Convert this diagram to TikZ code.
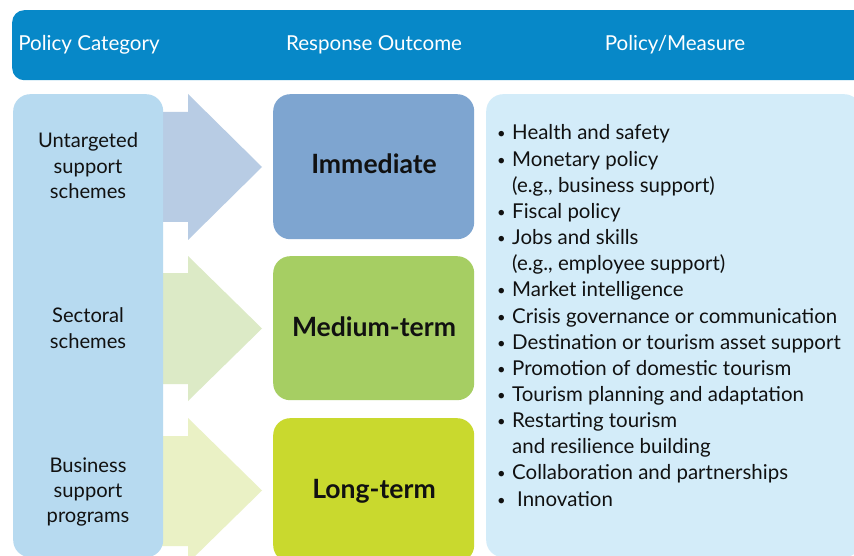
\documentclass[tikz,border=0pt]{standalone}
\usepackage{fontspec}
\setmainfont{Lato}
\definecolor{hdrblue}{HTML}{0788C8}
\definecolor{leftblue}{HTML}{B7DAF0}
\definecolor{arrA}{HTML}{B8CCE4}
\definecolor{arrB}{HTML}{DCEAC6}
\definecolor{arrC}{HTML}{EAF1C5}
\definecolor{immcol}{HTML}{7EA5D0}
\definecolor{medcol}{HTML}{A6CE63}
\definecolor{lngcol}{HTML}{C9D92E}
\definecolor{rightblue}{HTML}{D3ECF9}
\definecolor{txtcol}{HTML}{111111}
\newlength\myfitw
\newcommand\myfitsize[4]{%
  \settowidth\myfitw{\fontsize{10}{12}\selectfont #2#3}%
  \pgfmathsetmacro#1{10*#4/\myfitw}}
\newcommand\mybul{\llap{\raisebox{1pt}{\scalebox{0.72}{•}}\hspace{6.5pt}}}
\begin{document}
\myfitsize{\bodysz}{}{Crisis governance or communication}{325}%
\myfitsize{\leftsz}{}{Untargeted}{100}%
\myfitsize{\hdrsz}{}{Response Outcome}{176}%
\myfitsize{\boldsz}{\bfseries}{Medium-term}{164}%
\begin{tikzpicture}[x=1pt,y=-1pt]
\tikzset{
  box/.style={rounded corners=17pt, inner sep=0pt, anchor=north west, draw=none},
  hdrtxt/.style={text=white, anchor=base, inner sep=0pt, font=\fontsize{\hdrsz}{\hdrsz}\selectfont},
  lefttxt/.style={text=txtcol, anchor=base, inner sep=0pt, font=\fontsize{\leftsz}{\leftsz}\selectfont},
  outtxt/.style={text=txtcol, anchor=base, inner sep=0pt, font=\fontsize{\boldsz}{\boldsz}\selectfont\bfseries},
  listtxt/.style={text=txtcol, anchor=base west, inner sep=0pt, font=\fontsize{\bodysz}{\bodysz}\selectfont},
}
\useasboundingbox (0,0) rectangle (854,556);
\clip (0,0) rectangle (854,556);
\fill[white] (0,0) rectangle (854,556);
% header
\node[box, rounded corners=12pt, fill=hdrblue, minimum width=880pt, minimum height=70pt] (hdr) at (12,10) {};
\node[hdrtxt] (h1) at (89,51) {Policy Category};
\node[hdrtxt] (h2) at (374,51) {Response Outcome};
\node[hdrtxt] (h3) at (675,51) {Policy/Measure};
% arrows
\fill[arrA] (150,112) -- (188,112) -- (188,94) -- (262,167) -- (188,240) -- (188,222) -- (150,222) -- cycle;
\fill[arrB] (150,273) -- (188,273) -- (188,256) -- (262,328.5) -- (188,401) -- (188,384) -- (150,384) -- cycle;
\fill[arrC] (150,436) -- (188,436) -- (188,418) -- (262,490.5) -- (188,563) -- (188,546) -- (150,546) -- cycle;
% left column
\node[box, fill=leftblue, minimum width=150pt, minimum height=463pt] (left) at (13,94) {};
\node[lefttxt] (l1) at (88,148) {Untargeted};
\node[lefttxt] (l2) at (88,174) {support};
\node[lefttxt] (l3) at (88,199) {schemes};
\node[lefttxt] (l4) at (88,322) {Sectoral};
\node[lefttxt] (l5) at (88,348) {schemes};
\node[lefttxt] (l6) at (88,472) {Business};
\node[lefttxt] (l7) at (88,497) {support};
\node[lefttxt] (l8) at (88,522) {programs};
% outcome boxes
\node[box, fill=immcol, minimum width=201pt, minimum height=145pt] (imm) at (273,94) {};
\node[box, fill=medcol, minimum width=201pt, minimum height=144pt] (med) at (273,256) {};
\node[box, fill=lngcol, minimum width=201pt, minimum height=144pt] (lng) at (273,418) {};
\node[outtxt] (t1) at (374,174) {Immediate};
\node[outtxt] (t2) at (374,336) {Medium-term};
\node[outtxt] (t3) at (374,498) {Long-term};
% right box
\node[box, fill=rightblue, minimum width=375pt, minimum height=463pt] (right) at (486,94) {};
\foreach \t [count=\i] in {
  {\mybul Health and safety},
  {\mybul Monetary policy},
  {(e.g., business support)},
  {\mybul Fiscal policy},
  {\mybul Jobs and skills},
  {(e.g., employee support)},
  {\mybul Market intelligence},
  {\mybul Crisis governance or communication},
  {\mybul Destination or tourism asset support},
  {\mybul Promotion of domestic tourism},
  {\mybul Tourism planning and adaptation},
  {\mybul Restarting tourism},
  {and resilience building},
  {\mybul Collaboration and partnerships},
  {\mybul\hspace{5pt}Innovation}}
  \node[listtxt] (m\i) at (512,{140+26.15*(\i-1)}) {\t};
\end{tikzpicture}
\end{document}
